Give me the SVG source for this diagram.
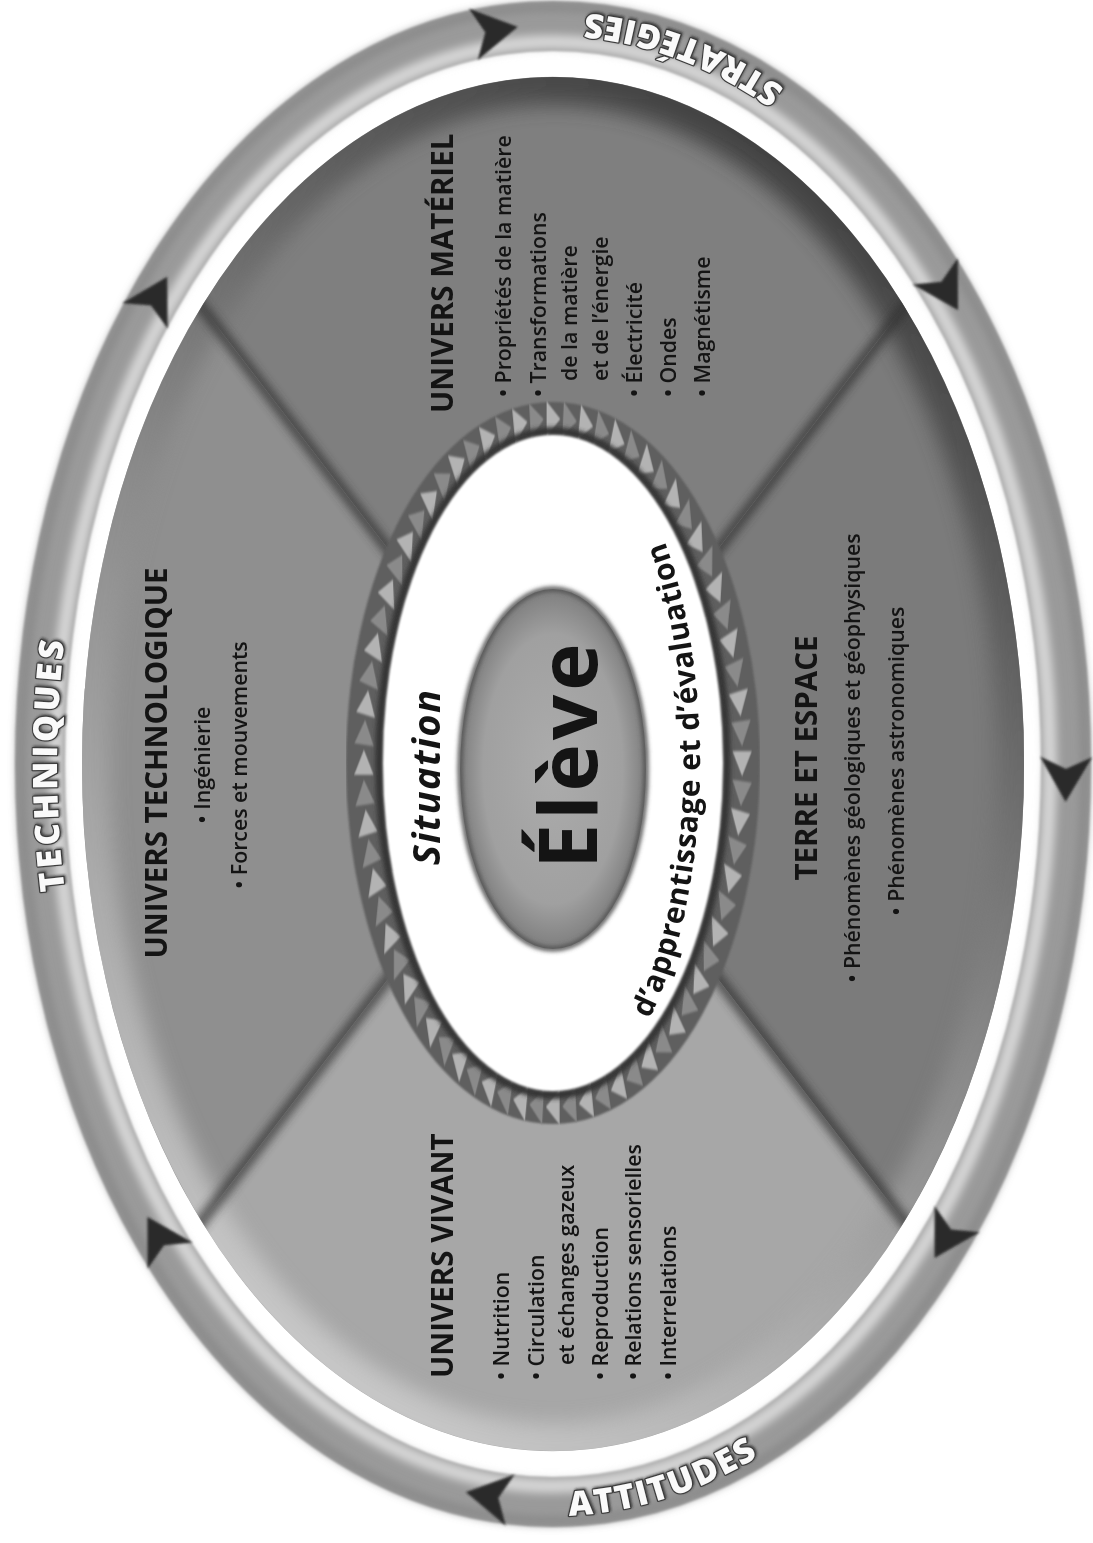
<svg xmlns="http://www.w3.org/2000/svg" xmlns:xlink="http://www.w3.org/1999/xlink" width="1093" height="1543" viewBox="0 0 1093 1543">
  <defs>
    <style>
      .t{font-family:'Open Sans','Liberation Sans',sans-serif;fill:#141414}
      .h{font-weight:700;font-size:29.5px}
      .b{font-size:21.3px;font-weight:600}
      .rl{font-family:'Open Sans','DejaVu Sans',sans-serif;font-weight:800;font-size:34px;fill:#fafafa;stroke:#3c3c3c;stroke-width:2.4px;paint-order:stroke;stroke-linejoin:round}
      .arrow{fill:#2c2c2c}
    </style>
    <filter id="b1" x="-5%" y="-5%" width="110%" height="110%"><feGaussianBlur stdDeviation="1"/></filter>
    <filter id="b2" x="-10%" y="-10%" width="120%" height="120%"><feGaussianBlur stdDeviation="2"/></filter>
    <filter id="b4" x="-10%" y="-10%" width="120%" height="120%"><feGaussianBlur stdDeviation="4"/></filter>
    <filter id="b10" x="-10%" y="-10%" width="120%" height="120%"><feGaussianBlur stdDeviation="10"/></filter>
    <filter id="emboss" x="-10%" y="-30%" width="120%" height="160%">
      <feDropShadow dx="1.2" dy="1.2" stdDeviation="1" flood-color="#222" flood-opacity="0.7"/>
    </filter>
    <linearGradient id="rimGrad" gradientUnits="userSpaceOnUse" x1="92" y1="82" x2="1466" y2="1024">
      <stop offset="0" stop-color="#e2e2e2"/>
      <stop offset="0.5" stop-color="#8a8a8a"/>
      <stop offset="1" stop-color="#1e1e1e"/>
    </linearGradient>
    <radialGradient id="eleveFill" cx="0.5" cy="0.5" r="0.5">
      <stop offset="0" stop-color="#acacac"/>
      <stop offset="0.75" stop-color="#a0a0a0"/>
      <stop offset="1" stop-color="#7e7e7e"/>
    </radialGradient>
    <clipPath id="secClip"><ellipse cx="779" cy="553" rx="687" ry="471"/></clipPath>
    <!-- ring arrowhead, centred on the band, pointing along +x -->
    <path id="arr" d="M25,0 L-20,-26 L-8,0 L-20,26 Z"/>
    <!-- one light and one dark tooth of the ratchet ring (circle frame, r = 260) -->
    <g id="tp">
      <polygon points="248,-9 275,-9 261.5,10" fill="#b3b3b3"/>
      <polygon points="248,-9 275,-9 261.5,10" fill="#8a8a8a" transform="rotate(5)"/>
    </g>
    <!-- baselines for curved labels -->
    <path id="techPath" d="M269.2,202.3 A721 496 0 0 1 1288.8,202.3"/>
    <path id="stratPath" d="M1210.3,984.7 A752 527 0 0 0 1430.2,289.5"/>
    <path id="attPath" d="M141.3,273.7 A752 527 0 0 0 326.4,973.9"/>
    <path id="sitPath" d="M524.4,649.4 A340 147 0 0 0 1037.6,649.4"/>
  </defs>

  <rect width="1093" height="1543" fill="#ffffff"/>

  <!-- the diagram is laid out in landscape and turned a quarter turn -->
  <g transform="translate(0,1543) rotate(-90)">

    <!-- outer ring -->
    <g id="ring">
      <ellipse cx="779" cy="553" rx="738" ry="513" fill="none" stroke="#9a9a9a" stroke-width="50" filter="url(#b1)"/>
      <ellipse cx="779" cy="553" rx="722" ry="497" fill="none" stroke="#d6d6d6" stroke-width="14" filter="url(#b4)"/>
      <ellipse cx="779" cy="553" rx="757" ry="532" fill="none" stroke="#888" stroke-width="8" filter="url(#b4)"/>
      <g filter="url(#emboss)">
        <text class="rl" letter-spacing="3.5"><textPath href="#techPath" startOffset="50%" text-anchor="middle">TECHNIQUES</textPath></text>
        <text class="rl" letter-spacing="1.5"><textPath href="#stratPath" startOffset="50%" text-anchor="middle">STRATÉGIES</textPath></text>
        <text class="rl" letter-spacing="1.8"><textPath href="#attPath" startOffset="50%" text-anchor="middle">ATTITUDES</textPath></text>
      </g>
    </g>

    <!-- circulation arrows on the ring -->
    <g id="connectors" class="arrow" filter="url(#b1)">
      <use href="#arr" transform="translate(1512,493.1) rotate(80.4)"/>
      <use href="#arr" transform="translate(1244.5,154.9) rotate(29.4)"/>
      <use href="#arr" transform="translate(304.6,160) rotate(-30.3)"/>
      <use href="#arr" transform="translate(46.5,490.5) rotate(-80)"/>
      <use href="#arr" transform="translate(766.1,1065.9) rotate(180.7)"/>
      <use href="#arr" transform="translate(1254.4,945.4) rotate(149.7)"/>
      <use href="#arr" transform="translate(306.6,947.1) rotate(210.1)"/>
    </g>

    <!-- four quadrants -->
    <g id="sectors">
      <path d="M779,553 L321.2,201.7 A687 471 0 0 1 1236.8,201.7 Z" fill="#8f8f8f"/>
      <path d="M779,553 L1236.8,201.7 A687 471 0 0 1 1236.8,904.3 Z" fill="#7f7f7f"/>
      <path d="M779,553 L1236.8,904.3 A687 471 0 0 1 321.2,904.3 Z" fill="#7b7b7b"/>
      <path d="M779,553 L321.2,904.3 A687 471 0 0 1 321.2,201.7 Z" fill="#a7a7a7"/>
      <g clip-path="url(#secClip)">
        <ellipse cx="779" cy="553" rx="687" ry="471" fill="none" stroke="url(#rimGrad)" stroke-width="56" filter="url(#b10)" opacity="0.85"/>
        <g stroke="#333" stroke-width="12" opacity="0.7" filter="url(#b4)">
          <line x1="779" y1="553" x2="1250" y2="191"/>
          <line x1="779" y1="553" x2="1250" y2="915"/>
          <line x1="779" y1="553" x2="308" y2="915"/>
          <line x1="779" y1="553" x2="308" y2="191"/>
        </g>
      </g>
    </g>

    <!-- centre: ratchet ring, learning situation, pupil -->
    <g id="node-eleve">
      <ellipse cx="780" cy="553" rx="342" ry="188" fill="none" stroke="#5e5e5e" stroke-width="38" filter="url(#b1)"/>
      <g transform="translate(780,553) scale(1.3154,0.7231)" filter="url(#b1)">
        <use href="#tp" transform="rotate(0)"/><use href="#tp" transform="rotate(10)"/>
        <use href="#tp" transform="rotate(20)"/><use href="#tp" transform="rotate(30)"/>
        <use href="#tp" transform="rotate(40)"/><use href="#tp" transform="rotate(50)"/>
        <use href="#tp" transform="rotate(60)"/><use href="#tp" transform="rotate(70)"/>
        <use href="#tp" transform="rotate(80)"/><use href="#tp" transform="rotate(90)"/>
        <use href="#tp" transform="rotate(100)"/><use href="#tp" transform="rotate(110)"/>
        <use href="#tp" transform="rotate(120)"/><use href="#tp" transform="rotate(130)"/>
        <use href="#tp" transform="rotate(140)"/><use href="#tp" transform="rotate(150)"/>
        <use href="#tp" transform="rotate(160)"/><use href="#tp" transform="rotate(170)"/>
        <use href="#tp" transform="rotate(180)"/><use href="#tp" transform="rotate(190)"/>
        <use href="#tp" transform="rotate(200)"/><use href="#tp" transform="rotate(210)"/>
        <use href="#tp" transform="rotate(220)"/><use href="#tp" transform="rotate(230)"/>
        <use href="#tp" transform="rotate(240)"/><use href="#tp" transform="rotate(250)"/>
        <use href="#tp" transform="rotate(260)"/><use href="#tp" transform="rotate(270)"/>
        <use href="#tp" transform="rotate(280)"/><use href="#tp" transform="rotate(290)"/>
        <use href="#tp" transform="rotate(300)"/><use href="#tp" transform="rotate(310)"/>
        <use href="#tp" transform="rotate(320)"/><use href="#tp" transform="rotate(330)"/>
        <use href="#tp" transform="rotate(340)"/><use href="#tp" transform="rotate(350)"/>
      </g>
      <ellipse cx="780" cy="553" rx="332" ry="174" fill="none" stroke="#363636" stroke-width="8" filter="url(#b2)"/>
      <ellipse cx="780" cy="553" rx="328" ry="170" fill="#ffffff" filter="url(#b1)"/>
      <ellipse cx="774" cy="553" rx="180" ry="93" fill="url(#eleveFill)"/>
      <ellipse cx="774" cy="553" rx="180" ry="93" fill="none" stroke="#555" stroke-width="5" filter="url(#b2)"/>
      <text class="t" x="789" y="597" text-anchor="middle" font-size="80" font-weight="700" letter-spacing="4">Élève</text>
      <text class="t" x="766" y="440" text-anchor="middle" font-size="38" font-weight="700" font-style="italic" letter-spacing="1.3">Situation</text>
      <text class="t" font-size="30" font-weight="700" letter-spacing="0.6"><textPath href="#sitPath">d’apprentissage et d’évaluation</textPath></text>
    </g>

    <g id="node-technologique">
      <text class="t h" x="780" y="167" text-anchor="middle">UNIVERS TECHNOLOGIQUE</text>
      <text class="t b" x="778" y="210" text-anchor="middle">• Ingénierie</text>
      <text class="t b" x="778" y="247" text-anchor="middle">• Forces et mouvements</text>
    </g>

    <g id="node-materiel">
      <text class="t h" x="1130" y="453">UNIVERS MATÉRIEL</text>
      <text class="t b" x="1146" y="511">• Propriétés de la matière</text>
      <text class="t b" x="1146" y="546">• Transformations</text>
      <text class="t b" x="1162" y="577">de la matière</text>
      <text class="t b" x="1162" y="608">et de l’énergie</text>
      <text class="t b" x="1146" y="642">• Électricité</text>
      <text class="t b" x="1146" y="676">• Ondes</text>
      <text class="t b" x="1146" y="710">• Magnétisme</text>
    </g>

    <g id="node-terre">
      <text class="t h" x="785" y="817" text-anchor="middle">TERRE ET ESPACE</text>
      <text class="t b" x="785" y="860" text-anchor="middle">• Phénomènes géologiques et géophysiques</text>
      <text class="t b" x="782" y="904" text-anchor="middle">• Phénomènes astronomiques</text>
    </g>

    <g id="node-vivant">
      <text class="t h" x="165" y="453">UNIVERS VIVANT</text>
      <text class="t b" x="163" y="509">• Nutrition</text>
      <text class="t b" x="163" y="544">• Circulation</text>
      <text class="t b" x="178" y="574">et échanges gazeux</text>
      <text class="t b" x="163" y="608">• Reproduction</text>
      <text class="t b" x="163" y="641">• Relations sensorielles</text>
      <text class="t b" x="163" y="676">• Interrelations</text>
    </g>
  </g>
</svg>
